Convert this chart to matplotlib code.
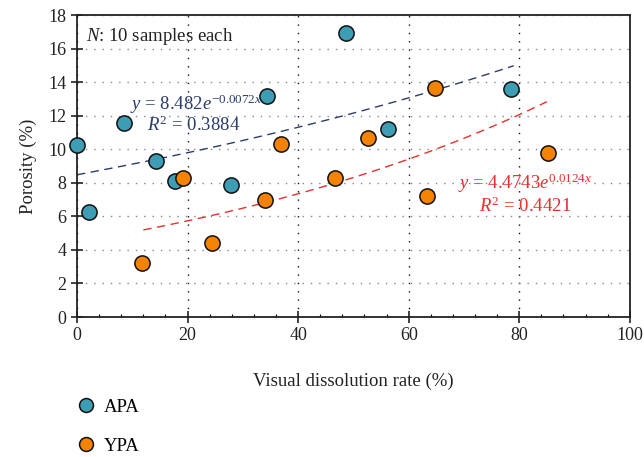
import numpy as np
import matplotlib.pyplot as plt
from matplotlib.lines import Line2D

# visual dissolution rate (%) and porosity (%)
apa_x = [0.0, 2.2, 8.5, 14.3, 17.7, 27.8, 34.4, 48.6, 56.2, 78.5]
apa_y = [10.25, 6.25, 11.55, 9.3, 8.1, 7.85, 13.2, 16.95, 11.2, 13.6]
ypa_x = [11.8, 19.1, 24.4, 34.0, 36.9, 46.6, 52.6, 64.7, 63.3, 85.2]
ypa_y = [3.2, 8.3, 4.4, 6.95, 10.3, 8.3, 10.65, 13.65, 7.2, 9.75]

# exponential fits y = a*exp(b*x) and the x range each line covers
apa_fit = (8.482, 0.0072, 0.0, 79.0)
ypa_fit = (4.4743, 0.0124, 12.0, 85.0)

teal = '#3c9db5'
orange = '#f58300'
navy = '#2b3d6b'
red = '#e5312b'

plt.rcParams['font.family'] = ['Liberation Serif', 'DejaVu Serif']
plt.rcParams['mathtext.fontset'] = 'custom'
plt.rcParams['mathtext.rm'] = 'Liberation Serif'
plt.rcParams['mathtext.it'] = 'Liberation Serif:italic'

fig = plt.figure(figsize=(6.44, 4.57), dpi=100)
ax = fig.add_axes([0.1196, 0.3063, 0.8584, 0.6607])

ax.set_xlim(0, 100)
ax.set_ylim(0, 18)
ax.set_xticks(range(0, 101, 20))
ax.set_yticks(range(0, 19, 2))
ax.tick_params(direction='inout', length=8, width=1.2, labelsize=13, colors='#222222')
ax.set_xticks(np.arange(0, 101, 4), minor=True)
ax.tick_params(which='minor', direction='in', length=2, width=0.8)

ax.xaxis.grid(True, linestyle=(0, (1, 5)), color='#111111', linewidth=1.0)
ax.yaxis.grid(True, linestyle=(0, (1, 5)), color='#888888', linewidth=1.0)
ax.set_axisbelow(True)
for s in ax.spines.values():
    s.set_linewidth(1.3)
    s.set_color('#222222')

for (a, b, x0, x1), c in [(apa_fit, navy), (ypa_fit, red)]:
    xs = np.linspace(x0, x1, 100)
    ax.plot(xs, a * np.exp(b * xs), linestyle=(0, (6, 4)), color=c, linewidth=1.0, zorder=2)

ax.scatter(apa_x, apa_y, s=120, c=teal, edgecolors='#111111', linewidths=1.1, zorder=3, clip_on=False)
ax.scatter(ypa_x, ypa_y, s=120, c=orange, edgecolors='#111111', linewidths=1.1, zorder=3, clip_on=False)

ax.text(1.6, 16.75, r'$N$: 10 samples each', fontsize=13.5, color='#222222', va='center')
ax.text(9.6, 12.7, r'$y$ = 8.482$e^{-0.0072x}$', fontsize=13.5, color=navy, va='center')
ax.text(12.7, 11.4, r'$R^2$ = 0.3884', fontsize=13.5, color=navy, va='center')
ax.text(69.0, 8.0, r'$y$ = 4.4743$e^{0.0124x}$', fontsize=13.5, color=red, va='center')
ax.text(72.8, 6.6, r'$R^2$ = 0.4421', fontsize=13.5, color=red, va='center')

ax.set_xlabel('Visual dissolution rate (%)', fontsize=13.5, color='#222222', labelpad=20)
ax.set_ylabel('Porosity (%)', fontsize=13.5, color='#222222', labelpad=8)

handles = [
    Line2D([], [], marker='o', linestyle='none', markersize=10, markerfacecolor=teal, markeredgecolor='#111111', markeredgewidth=1.1),
    Line2D([], [], marker='o', linestyle='none', markersize=10, markerfacecolor=orange, markeredgecolor='#111111', markeredgewidth=1.1),
]
fig.legend(handles, ['APA', 'YPA'], loc='upper left', bbox_to_anchor=(0.085, 0.164),
           frameon=False, fontsize=13.5, labelspacing=1.15, handletextpad=0.2, handlelength=1.5,
           bbox_transform=fig.transFigure)

fig.savefig('out.png', dpi=100)
